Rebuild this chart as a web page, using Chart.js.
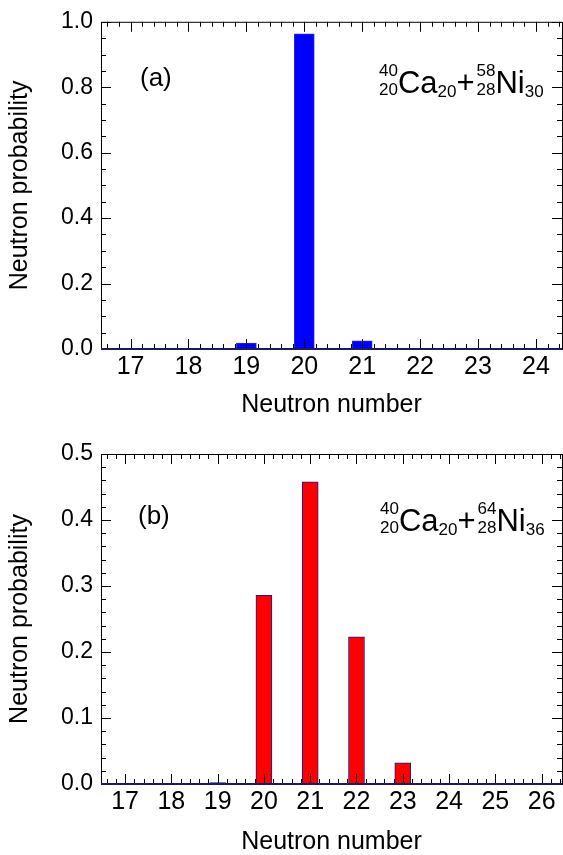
<!DOCTYPE html>
<html>
<head>
<meta charset="utf-8">
<script src="https://cdn.jsdelivr.net/npm/chart.js@4.4.1/dist/chart.umd.min.js"></script>
<style>
  html, body { margin: 0; padding: 0; background: #fff; }
  canvas { display: block; }
</style>
</head>
<body>
<canvas id="chartA" width="563" height="420"></canvas>
<canvas id="chartB" width="563" height="435"></canvas>
<script>
// panel (a): 40Ca + 58Ni
var neutronsA = [17, 18, 19, 20, 21, 22, 23, 24];
var probA = [0, 0, 0.018, 0.963, 0.025, 0, 0, 0];
var xTicksA = [17, 18, 19, 20, 21, 22, 23, 24];
var yTicksA = [0, 0.2, 0.4, 0.6, 0.8, 1.0];
var reactionA = ['40', '20', 'Ca', '20', '58', '28', 'Ni', '30'];

// panel (b): 40Ca + 64Ni
var neutronsB = [17, 18, 19, 20, 21, 22, 23, 24, 25, 26];
var probB = [0, 0, 0.002, 0.286, 0.458, 0.223, 0.032, 0.001, 0, 0];
var xTicksB = [17, 18, 19, 20, 21, 22, 23, 24, 25, 26];
var yTicksB = [0, 0.1, 0.2, 0.3, 0.4, 0.5];
var reactionB = ['40', '20', 'Ca', '20', '64', '28', 'Ni', '36'];

var FONT = "'Liberation Sans', Arial, Helvetica, sans-serif";

// ROOT style frame with inward ticks on all four sides
var frameTicks = {
  id: 'frameTicks',
  afterDatasetsDraw: function(chart, args, opts) {
    var ctx = chart.ctx, a = chart.chartArea;
    var x = chart.scales.x, y = chart.scales.y;
    ctx.save();
    ctx.strokeStyle = '#000';
    ctx.lineWidth = 1;
    ctx.beginPath();
    var i, v, p, len;
    for (i = Math.ceil(x.min / opts.xMinor); i * opts.xMinor <= x.max + 1e-9; i++) {
      v = i * opts.xMinor;
      len = Math.abs(v - Math.round(v)) < 1e-6 ? 10 : 5;
      p = Math.round(x.getPixelForValue(v)) + 0.5;
      ctx.moveTo(p, a.bottom); ctx.lineTo(p, a.bottom - len);
      ctx.moveTo(p, a.top); ctx.lineTo(p, a.top + len);
    }
    for (i = Math.ceil(y.min / opts.yMinor - 1e-6); i * opts.yMinor <= y.max + 1e-9; i++) {
      v = i * opts.yMinor;
      len = Math.abs(v / opts.yMajor - Math.round(v / opts.yMajor)) < 1e-6 ? 10 : 5;
      p = Math.round(y.getPixelForValue(v)) + 0.5;
      ctx.moveTo(a.left, p); ctx.lineTo(a.left + len, p);
      ctx.moveTo(a.right, p); ctx.lineTo(a.right - len, p);
    }
    ctx.stroke();
    ctx.strokeRect(a.left + 0.5, a.top + 0.5, a.right - a.left, a.bottom - a.top);
    ctx.strokeStyle = '#1c1c5c';
    ctx.lineWidth = 2;
    ctx.beginPath();
    ctx.moveTo(a.left, a.bottom); ctx.lineTo(a.right, a.bottom);
    ctx.stroke();
    ctx.restore();
  }
};

function drawIsotope(ctx, x, base, A, Z, sym, N) {
  ctx.font = '17px ' + FONT;
  var wPre = Math.max(ctx.measureText(A).width, ctx.measureText(Z).width);
  ctx.fillText(A, x, base - 17);
  ctx.fillText(Z, x, base + 2);
  x += wPre;
  ctx.font = '31px ' + FONT;
  ctx.fillText(sym, x, base);
  x += ctx.measureText(sym).width;
  ctx.font = '17px ' + FONT;
  ctx.fillText(N, x, base + 4);
  return x + ctx.measureText(N).width;
}

var panelText = {
  id: 'panelText',
  afterDraw: function(chart, args, opts) {
    var ctx = chart.ctx, r = opts.reaction;
    ctx.save();
    ctx.fillStyle = '#000';
    ctx.textBaseline = 'alphabetic';
    ctx.textAlign = 'left';
    ctx.font = '26px ' + FONT;
    ctx.fillText(opts.tag, opts.tagX, opts.tagY);
    var x = drawIsotope(ctx, opts.formX, opts.formY, r[0], r[1], r[2], r[3]);
    ctx.font = '31px ' + FONT;
    ctx.fillText('+', x, opts.formY);
    x += ctx.measureText('+').width + 2;
    drawIsotope(ctx, x, opts.formY, r[4], r[5], r[6], r[7]);
    ctx.restore();
  }
};

function buildChart(id, neutrons, probs, xTicks, yTicks, cfg) {
  var ctx = document.getElementById(id).getContext('2d');
  return new Chart(ctx, {
    type: 'bar',
    data: {
      datasets: [{
        data: neutrons.map(function(n, i) { return { x: n, y: probs[i] }; }),
        backgroundColor: cfg.fill,
        borderColor: cfg.edge,
        borderWidth: 1,
        borderSkipped: false,
        barThickness: cfg.barWidth
      }]
    },
    options: {
      responsive: false,
      animation: false,
      devicePixelRatio: 1,
      layout: { padding: { top: cfg.top, right: 1, left: 0, bottom: 0 } },
      plugins: {
        legend: { display: false },
        tooltip: { enabled: false },
        frameTicks: { xMinor: 0.2, yMinor: cfg.yMinor, yMajor: cfg.yMajor },
        panelText: cfg.text
      },
      scales: {
        x: {
          type: 'linear',
          offset: false,
          min: cfg.xMin,
          max: cfg.xMax,
          grid: { display: false, drawTicks: false },
          border: { display: false },
          afterBuildTicks: function(axis) { axis.ticks = xTicks.map(function(v) { return { value: v }; }); },
          afterFit: function(axis) { axis.height = cfg.xHeight; },
          ticks: {
            color: '#000',
            padding: 3,
            maxRotation: 0,
            autoSkip: false,
            font: { family: FONT, size: 25 },
            callback: function(v) { return String(v); }
          },
          title: {
            display: true,
            text: 'Neutron number',
            color: '#000',
            font: { family: FONT, size: 25, lineHeight: 1 },
            padding: { top: 0, bottom: cfg.titlePad }
          }
        },
        y: {
          min: 0,
          max: cfg.yMax,
          grid: { display: false, drawTicks: false },
          border: { display: false },
          afterBuildTicks: function(axis) { axis.ticks = yTicks.map(function(v) { return { value: v }; }); },
          afterFit: function(axis) { axis.width = 101; },
          ticks: {
            color: '#000',
            padding: 8,
            font: { family: FONT, size: 23 },
            callback: function(v) { return v.toFixed(1); }
          },
          title: {
            display: true,
            text: 'Neutron probability',
            color: '#000',
            font: { family: FONT, size: 25, lineHeight: 1 },
            padding: { top: 8, bottom: 0 }
          }
        }
      }
    },
    plugins: [frameTicks, panelText]
  });
}

buildChart('chartA', neutronsA, probA, xTicksA, yTicksA, {
  fill: '#0000ff', edge: '#2a2ad0', barWidth: 20,
  top: 19, xHeight: 71, titlePad: 2,
  xMin: 16.49, xMax: 24.45, yMax: 1.0, yMinor: 0.05, yMajor: 0.2,
  text: { tag: '(a)', tagX: 140, tagY: 86, formX: 379, formY: 93, reaction: reactionA }
});

buildChart('chartB', neutronsB, probB, xTicksB, yTicksB, {
  fill: '#ff0000', edge: '#1a1a8c', barWidth: 16,
  top: 34, xHeight: 71, titlePad: 0,
  xMin: 16.48, xMax: 26.44, yMax: 0.5, yMinor: 0.02, yMajor: 0.1,
  text: { tag: '(b)', tagX: 138, tagY: 104, formX: 380, formY: 111, reaction: reactionB }
});
</script>
</body>
</html>
